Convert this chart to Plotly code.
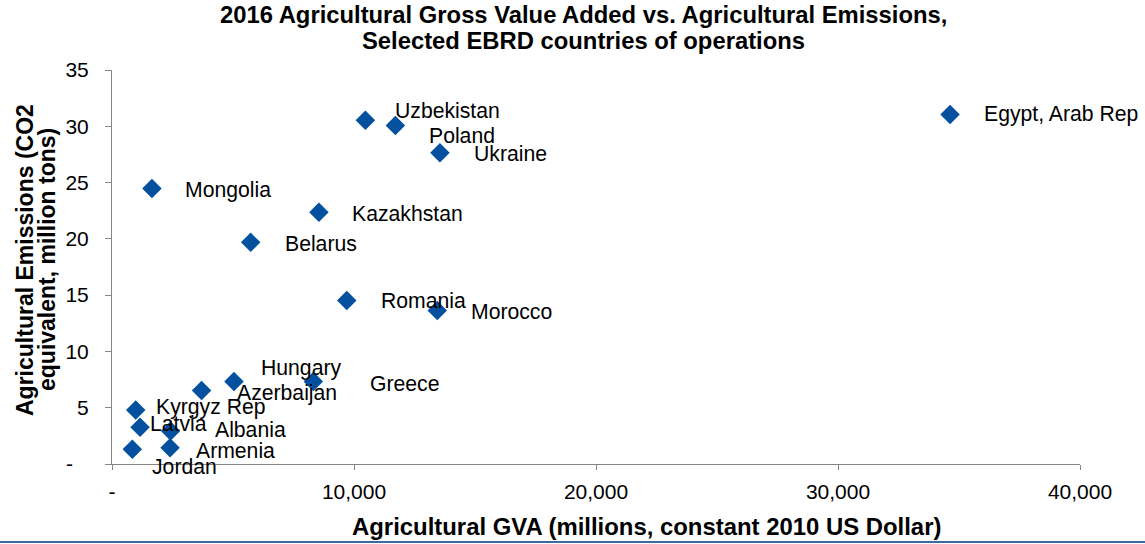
import plotly.graph_objects as go

# ---- data ----
countries = ["Egypt, Arab Rep", "Uzbekistan", "Poland", "Ukraine", "Mongolia",
             "Kazakhstan", "Belarus", "Romania", "Morocco", "Hungary", "Greece",
             "Azerbaijan", "Kyrgyz Rep", "Latvia", "Albania", "Armenia", "Jordan"]
gva = [34630, 10470, 11710, 13550, 1650, 8550, 5730, 9700, 13440, 5040, 8320,
       3700, 980, 1160, 2420, 2400, 840]
emissions = [31.05, 30.54, 30.07, 27.64, 24.47, 22.36, 19.69, 14.53, 13.64, 7.32, 7.32,
             6.52, 4.80, 3.26, 2.94, 1.45, 1.31]

x_tickvals = [0, 10000, 20000, 30000, 40000]
x_ticktext = ["-", "10,000", "20,000", "30,000", "40,000"]
y_tickvals = [0, 5, 10, 15, 20, 25, 30, 35]
y_ticktext = ["-\u2007\u2009", "5", "10", "15", "20", "25", "30", "35"]

title_lines = ["2016 Agricultural Gross Value Added vs. Agricultural Emissions,",
               "Selected EBRD countries of operations"]
x_title = "Agricultural GVA (millions, constant 2010 US Dollar)"
y_title_lines = ["Agricultural Emissions (CO2", "equivalent, million tons)"]

# ---- label placement (pixel offsets from each marker) ----
label_dx = [32, 28, 32, 32, 31, 31, 32, 32, 32, 25, 55, 33, 18, 8, 42, 24, 18]
label_dy = [0, -10, 10, 1, 1, 1, 1, 0, 1, -14, 2, 2, -3, -4, -1, 3, 17]

FONT = "Liberation Sans, Arial, sans-serif"
AXIS_COLOR = "#868686"
MARKER_COLOR = "#03509E"
PLOT_L, PLOT_T, PLOT_W, PLOT_H = 112, 70, 968, 394

fig = go.Figure()
fig.add_trace(go.Scatter(
    x=gva, y=emissions, mode="markers",
    marker=dict(symbol="diamond", size=15, color=MARKER_COLOR, line=dict(width=0)),
    hovertext=countries, showlegend=False,
))

annotations = []
for name, xv, yv, dx, dy in zip(countries, gva, emissions, label_dx, label_dy):
    annotations.append(dict(
        x=xv, y=yv, xref="x", yref="y", text=name, showarrow=False,
        xanchor="left", yanchor="middle", xshift=dx, yshift=-dy,
        font=dict(family=FONT, size=21.2, color="#000000"),
    ))

# chart title (two lines)
for line, ypix in zip(title_lines, [14, 40]):
    annotations.append(dict(
        x=(583 - PLOT_L) / PLOT_W, y=1, xref="paper", yref="paper",
        text="<b>" + line + "</b>", showarrow=False,
        xanchor="center", yanchor="middle", yshift=PLOT_T - ypix,
        font=dict(family=FONT, size=23.8, color="#000000"),
    ))

# x axis title
annotations.append(dict(
    x=(646 - PLOT_L) / PLOT_W, y=0, xref="paper", yref="paper", text="<b>" + x_title + "</b>",
    showarrow=False, xanchor="center", yanchor="middle", yshift=-62,
    font=dict(family=FONT, size=23.9, color="#000000"),
))
# y axis title (two lines)
for line, xpix in zip(y_title_lines, [25, 47]):
    annotations.append(dict(
        x=0, y=(464 - 260) / PLOT_H, xref="paper", yref="paper", text="<b>" + line + "</b>",
        showarrow=False, xanchor="center", yanchor="middle", xshift=xpix - PLOT_L,
        textangle=-90, font=dict(family=FONT, size=23, color="#000000"),
    ))

fig.update_layout(
    width=1145, height=544,
    margin=dict(l=PLOT_L, r=1145 - PLOT_L - PLOT_W, t=PLOT_T, b=544 - PLOT_T - PLOT_H),
    paper_bgcolor="white", plot_bgcolor="white",
    annotations=annotations,
)

fig.add_shape(type="line", xref="paper", yref="paper",
              x0=-PLOT_L / PLOT_W, x1=1 + 65 / PLOT_W, y0=-78 / PLOT_H, y1=-78 / PLOT_H,
              line=dict(color="#3B6A9C", width=2))

fig.update_xaxes(
    range=[0, 40000], tickvals=x_tickvals, ticktext=x_ticktext,
    showline=True, linecolor=AXIS_COLOR, linewidth=1,
    ticks="outside", ticklen=5, tickcolor=AXIS_COLOR,
    showgrid=False, zeroline=False, ticklabelstandoff=4,
    tickfont=dict(family=FONT, size=21, color="#000000"),
)
fig.update_yaxes(
    range=[0, 35], tickvals=y_tickvals, ticktext=y_ticktext,
    showline=True, linecolor=AXIS_COLOR, linewidth=1,
    ticks="outside", ticklen=6, tickcolor=AXIS_COLOR,
    showgrid=False, zeroline=False, ticklabelstandoff=12,
    tickfont=dict(family=FONT, size=21, color="#000000"),
)

fig.write_html("out.html", config={"displayModeBar": False},
               post_script="document.body.style.margin='0';document.body.style.overflow='hidden';")
